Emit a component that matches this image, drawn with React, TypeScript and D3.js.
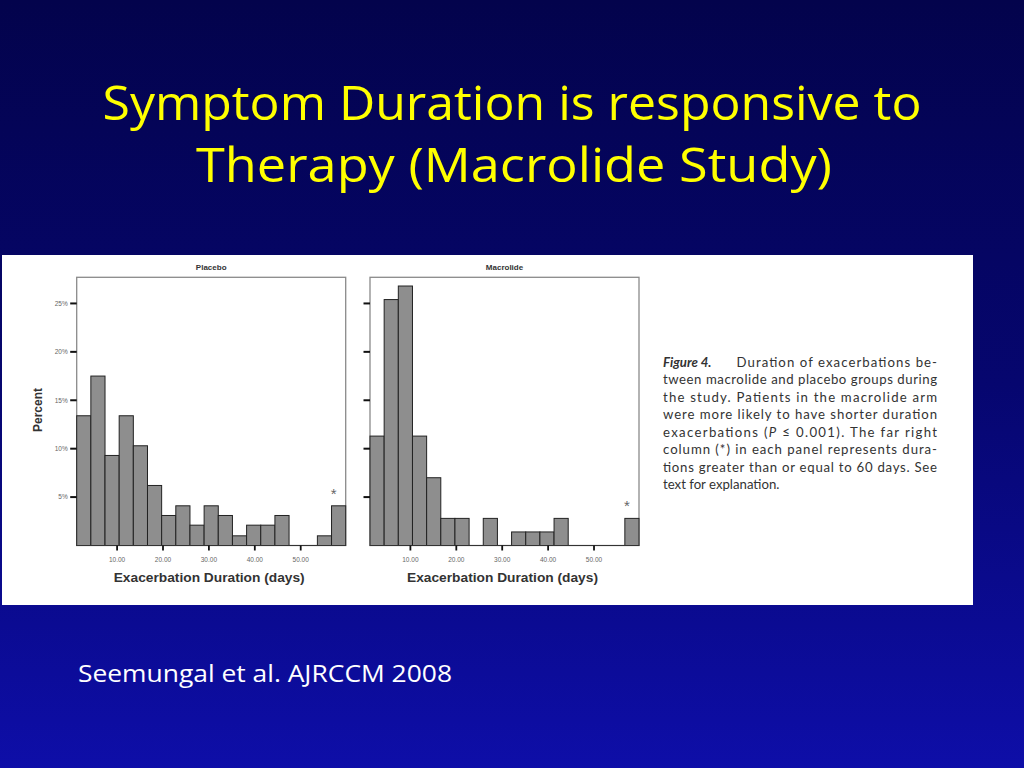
import React from "react";
import * as d3 from "d3";

// ---- Data ----
const titleLines = ["Symptom Duration is responsive to", "Therapy (Macrolide Study)"];
const footer = "Seemungal et al. AJRCCM 2008";
const panelTitles = ["Placebo", "Macrolide"];
// percent of exacerbations per duration bin (19 bins, last = >= 60 days)
const placeboValues = [13.4, 17.5, 9.3, 13.4, 10.3, 6.2, 3.1, 4.1, 2.1, 4.1, 3.1, 1.0, 2.1, 2.1, 3.1, 0, 0, 1.0, 4.1];
const macrolideValues = [11.3, 25.4, 26.8, 11.3, 7.0, 2.8, 2.8, 0, 2.8, 0, 1.4, 1.4, 1.4, 2.8, 0, 0, 0, 0, 2.8];
const xTicks = [10, 20, 30, 40, 50];
const yTicks = [5, 10, 15, 20, 25];
const xDomain: [number, number] = [1.2, 59.8];
const yMax = 27.7;
const xLabel = "Exacerbation Duration (days)";
const yLabel = "Percent";
const captionLines = [
  "tween macrolide and placebo groups during",
  "the study. Patients in the macrolide arm",
  "were more likely to have shorter duration",
];

const PANEL_W = 269;
const PANEL_TOP = 277.3;
const PANEL_BOTTOM = 545.5;

function Panel({ left, title, values, showYLabels }: { left: number; title: string; values: number[]; showYLabels: boolean }) {
  const x = d3.scaleLinear().domain(xDomain).range([left, left + PANEL_W]);
  const y = d3.scaleLinear().domain([0, yMax]).range([PANEL_BOTTOM, PANEL_TOP]);
  const n = values.length;
  const binW = (xDomain[1] - xDomain[0]) / n;
  const bins = values.map((v, i) => ({ x0: xDomain[0] + i * binW, x1: xDomain[0] + (i + 1) * binW, v }));
  const last = bins[n - 1];
  const cx = left + PANEL_W / 2;
  return (
    <g>
      <text x={cx} y={270} textAnchor="middle" fontFamily="Liberation Sans, Arial, sans-serif" fontWeight="bold" fontSize={8} fill="#333">
        {title}
      </text>
      <rect x={left} y={PANEL_TOP} width={PANEL_W} height={PANEL_BOTTOM - PANEL_TOP} fill="white" stroke="#8a8a8a" strokeWidth={1.3} />
      {bins.filter((b) => b.v > 0).map((b, i) => (
        <rect key={i} x={x(b.x0)} y={y(b.v)} width={x(b.x1) - x(b.x0)} height={y(0) - y(b.v)} fill="#8e8e8e" stroke="#222" strokeWidth={1} />
      ))}
      <line x1={left} x2={left + PANEL_W} y1={PANEL_BOTTOM} y2={PANEL_BOTTOM} stroke="#333" strokeWidth={1} />
      {yTicks.map((t) => (
        <g key={t}>
          <line x1={left - 6.5} x2={left} y1={y(t)} y2={y(t)} stroke="#111" strokeWidth={2} />
          {showYLabels && (
            <text x={left - 9} y={y(t) + 2.3} textAnchor="end" fontFamily="Liberation Sans, Arial, sans-serif" fontSize={6.5} fill="#666">
              {t}%
            </text>
          )}
        </g>
      ))}
      {xTicks.map((t) => (
        <g key={t}>
          <line x1={x(t)} x2={x(t)} y1={PANEL_BOTTOM} y2={PANEL_BOTTOM + 5} stroke="#111" strokeWidth={1.8} />
          <text x={x(t)} y={562} textAnchor="middle" fontFamily="Liberation Sans, Arial, sans-serif" fontSize={6.5} fill="#666">
            {t.toFixed(2)}
          </text>
        </g>
      ))}
      <text x={(x(last.x0) + x(last.x1)) / 2 - 5} y={y(last.v) - 7} textAnchor="middle" fontFamily="Liberation Sans, Arial, sans-serif" fontSize={15} fill="#666">
        *
      </text>
      <text x={cx - 2} y={581.5} textAnchor="middle" textLength={191} lengthAdjust="spacingAndGlyphs" fontFamily="Liberation Sans, Arial, sans-serif" fontWeight="bold" fontSize={12} fill="#333">
        {xLabel}
      </text>
    </g>
  );
}

export default function App() {
  const capFont = "Lato, 'Open Sans', sans-serif";
  const capX = 663;
  const capR = 937;
  const lineH = 17.5;
  const capY0 = 366.5;
  return (
    <svg width={1024} height={768} style={{ position: "absolute", left: 0, top: 0 }}>
      <defs>
        <linearGradient id="bg" x1="0" y1="0" x2="0" y2="1">
          <stop offset="0" stopColor="#03034c" />
          <stop offset="0.5" stopColor="#06066f" />
          <stop offset="1" stopColor="#0e0ea8" />
        </linearGradient>
      </defs>
      <rect x={0} y={0} width={1024} height={768} fill="url(#bg)" />
      <text x={512} y={120} textAnchor="middle" textLength={819} lengthAdjust="spacingAndGlyphs" fontFamily="'Comic Sans MS', 'Open Sans', sans-serif" fontSize={47} fill="#ffff00">
        {titleLines[0]}
      </text>
      <text x={514} y={182} textAnchor="middle" textLength={636} lengthAdjust="spacingAndGlyphs" fontFamily="'Comic Sans MS', 'Open Sans', sans-serif" fontSize={47} fill="#ffff00">
        {titleLines[1]}
      </text>

      <rect x={2} y={255} width={971} height={350} fill="white" />
      <text transform={`translate(42,410) rotate(-90)`} textAnchor="middle" fontFamily="Liberation Sans, Arial, sans-serif" fontWeight="bold" fontSize={12} fill="#333">
        {yLabel}
      </text>
      <Panel left={76.7} title={panelTitles[0]} values={placeboValues} showYLabels={true} />
      <Panel left={370} title={panelTitles[1]} values={macrolideValues} showYLabels={false} />

      <g fontFamily={capFont} fontSize={13.2} fill="#333">
        <text x={capX} y={capY0} fontStyle="italic" fontWeight="bold">Figure 4.</text>
        <text x={736.5} y={capY0} textLength={capR - 736.5} lengthAdjust="spacing">Duration of exacerbations be-</text>
        {captionLines.map((l, i) => (
          <text key={i} x={capX} y={capY0 + lineH * (i + 1)} textLength={capR - capX} lengthAdjust="spacing">{l}</text>
        ))}
        <text x={capX} y={capY0 + lineH * 4} textLength={capR - capX} lengthAdjust="spacing">
          exacerbations (<tspan fontStyle="italic">P</tspan> ≤ 0.001). The far right
        </text>
        <text x={capX} y={capY0 + lineH * 5} textLength={capR - capX} lengthAdjust="spacing">column (*) in each panel represents dura-</text>
        <text x={capX} y={capY0 + lineH * 6} textLength={capR - capX} lengthAdjust="spacing">tions greater than or equal to 60 days. See</text>
        <text x={capX} y={capY0 + lineH * 7}>text for explanation.</text>
      </g>

      <text x={78} y={682} textLength={374} lengthAdjust="spacingAndGlyphs" fontFamily="'Comic Sans MS', 'Open Sans', sans-serif" fontSize={24} fill="#ffffff">
        {footer}
      </text>
    </svg>
  );
}
